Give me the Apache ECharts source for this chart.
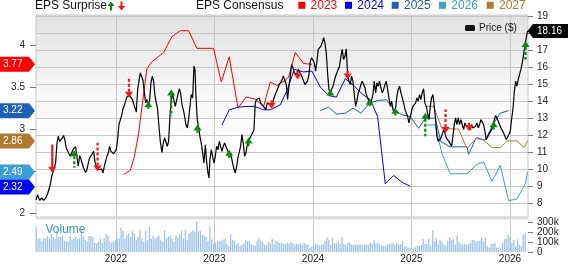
<!DOCTYPE html>
<html><head><meta charset="utf-8">
<script src="https://cdn.jsdelivr.net/npm/echarts@6/dist/echarts.min.js"></script>
<style>html,body{margin:0;padding:0;background:#fff}#c{width:568px;height:264px}</style>
</head><body><div id="c"></div>
<script>
// ---------- data ----------
const yearTicks = [2022, 2023, 2024, 2025, 2026];
const priceTicks = [8, 9, 10, 11, 12, 13, 14, 15, 16, 17, 18, 19];
const epsTicks = [2, 2.5, 3, 3.5, 4];
const epsTickLabels = [2, 3, 3.5, 4];
const volumeTicks = [0, 100, 200, 300]; // thousands

const consensusYears = ['2023', '2024', '2025', '2026', '2027'];
const consensusLast = [3.77, 2.32, 3.22, 2.49, 2.86];
const lastPrice = 18.16;

// price: [decimal year, $]
const price = [
[2021.188,8.20],[2021.204,8.50],[2021.225,8.17],[2021.245,8.31],[2021.265,8.17],[2021.286,8.30],[2021.306,8.56],[2021.320,8.64],[2021.333,9.09],[2021.347,9.59],[2021.360,9.82],[2021.374,9.78],[2021.387,10.37],[2021.401,11.55],[2021.414,11.95],[2021.428,11.65],[2021.441,11.55],[2021.455,11.85],[2021.468,12.00],[2021.482,11.71],[2021.495,11.26],[2021.509,11.16],[2021.523,10.92],[2021.536,10.77],[2021.550,10.96],[2021.563,11.16],[2021.577,11.06],[2021.590,11.32],[2021.604,11.36],[2021.617,10.18],[2021.631,10.81],[2021.644,10.61],[2021.658,10.33],[2021.671,10.08],[2021.692,9.82],[2021.705,9.98],[2021.719,10.37],[2021.732,10.67],[2021.746,10.77],[2021.759,10.92],[2021.773,11.06],[2021.786,10.47],[2021.800,10.18],[2021.814,10.18],[2021.827,9.98],[2021.841,9.88],[2021.854,10.02],[2021.868,9.78],[2021.881,10.18],[2021.895,10.47],[2021.908,10.77],[2021.922,10.96],[2021.935,11.36],[2021.949,11.06],[2021.962,11.06],[2021.976,10.92],[2021.990,11.00],
[2022.003,11.16],[2022.017,11.75],[2022.030,12.64],[2022.044,12.73],[2022.057,13.17],[2022.071,13.56],[2022.084,13.76],[2022.098,14.02],[2022.111,14.27],[2022.125,14.21],[2022.138,14.35],[2022.152,14.27],[2022.166,14.12],[2022.179,13.88],[2022.193,13.62],[2022.206,13.37],[2022.220,14.71],[2022.233,15.20],[2022.247,15.69],[2022.260,15.73],[2022.274,15.26],[2022.287,14.55],[2022.301,13.92],[2022.314,14.12],[2022.328,13.82],[2022.341,14.02],[2022.355,15.10],[2022.369,15.50],[2022.382,15.20],[2022.396,14.31],[2022.409,14.21],[2022.423,13.53],[2022.436,12.54],[2022.450,11.65],
[2022.467,11.00],[2022.480,11.55],[2022.494,11.85],[2022.507,11.75],[2022.521,11.36],[2022.534,11.65],[2022.548,13.13],[2022.561,14.12],[2022.575,14.41],[2022.589,14.51],[2022.602,13.72],[2022.616,13.62],[2022.629,14.41],[2022.643,14.75],[2022.656,14.51],[2022.670,13.82],[2022.683,13.53],[2022.697,13.13],[2022.710,12.64],[2022.724,12.44],[2022.737,12.93],[2022.751,13.72],[2022.764,14.41],[2022.778,14.21],[2022.792,16.09],[2022.802,15.89],[2022.812,14.31],[2022.825,12.93],[2022.839,12.44],[2022.852,11.95],[2022.866,11.55],[2022.880,10.96],[2022.893,10.37],[2022.907,11.45],[2022.920,10.47],[2022.934,9.78],[2022.944,9.49],[2022.954,10.57],[2022.968,11.16],[2022.981,10.77],[2022.995,10.37],
[2023.008,10.77],[2023.022,11.36],[2023.035,11.16],[2023.049,11.65],[2023.062,11.55],[2023.076,11.06],[2023.089,11.36],[2023.103,11.55],[2023.116,11.45],[2023.130,11.16],[2023.143,10.96],[2023.157,11.00],[2023.171,10.77],[2023.184,10.37],[2023.198,10.02],[2023.211,9.78],[2023.225,10.18],[2023.238,10.67],[2023.252,10.77],[2023.265,11.36],[2023.279,12.05],[2023.292,11.55],[2023.306,10.77],[2023.319,10.96],[2023.333,11.45],[2023.347,11.65],[2023.360,11.85],[2023.374,11.95],[2023.387,12.15],[2023.401,12.34],[2023.414,13.92],[2023.428,14.12],[2023.441,14.08],[2023.455,14.21],[2023.468,13.92],[2023.482,14.02],[2023.495,13.72],[2023.509,13.68],[2023.522,13.53],[2023.536,13.92],[2023.550,14.02],[2023.563,13.82],[2023.577,13.92],[2023.590,13.88],[2023.604,14.21],[2023.617,14.41],[2023.631,14.61],[2023.644,14.80],[2023.658,15.00],[2023.671,15.10],[2023.685,15.26],[2023.698,15.50],[2023.712,15.59],
[2023.729,15.00],[2023.742,14.12],[2023.756,14.90],[2023.770,15.50],[2023.783,16.18],[2023.797,15.99],[2023.810,15.69],[2023.824,15.79],[2023.837,15.59],[2023.851,15.89],[2023.864,15.89],[2023.878,15.59],[2023.891,15.40],[2023.905,15.30],[2023.918,15.00],[2023.932,14.90],[2023.945,15.20],[2023.959,15.59],[2023.973,16.38],[2023.986,16.58],
[2024.000,16.48],[2024.013,16.28],[2024.027,15.79],[2024.040,16.38],[2024.054,17.07],[2024.067,17.11],[2024.081,17.27],[2024.094,17.47],[2024.108,17.76],[2024.121,17.47],[2024.135,16.87],[2024.149,15.59],[2024.162,14.71],[2024.176,14.55],[2024.189,14.71],[2024.203,14.90],[2024.216,15.20],[2024.230,15.50],[2024.243,15.69],[2024.257,15.79],[2024.270,16.09],[2024.284,16.68],[2024.297,17.07],[2024.311,16.48],[2024.325,16.68],[2024.338,17.11],[2024.352,15.59],[2024.365,15.20],[2024.379,15.00],[2024.392,15.50],[2024.406,15.20],[2024.419,14.41],[2024.433,13.72],[2024.446,14.02],[2024.460,14.51],[2024.473,14.71],[2024.487,15.00],[2024.500,15.20],[2024.514,15.10],[2024.528,14.81],[2024.541,14.41],[2024.555,14.21],[2024.568,14.12],[2024.582,13.82],[2024.595,13.72],[2024.609,14.41],[2024.622,15.20],[2024.636,14.51],[2024.649,15.10],[2024.663,14.90],[2024.676,15.20],[2024.690,14.81],[2024.704,14.51],[2024.717,14.71],[2024.731,15.00],[2024.744,15.20],[2024.758,14.71],[2024.771,14.21],[2024.785,13.72],[2024.798,14.02],[2024.812,13.53],[2024.825,13.33],[2024.839,13.62],[2024.852,14.31],[2024.866,14.71],[2024.879,14.90],[2024.893,14.51],[2024.907,14.21],[2024.920,13.92],[2024.934,13.53],[2024.947,13.33],[2024.961,13.13],[2024.974,12.74],[2024.988,12.64],
[2025.001,13.43],[2025.015,13.72],[2025.028,13.82],[2025.042,13.92],[2025.055,14.21],[2025.069,14.02],[2025.082,14.41],[2025.096,14.12],[2025.109,14.51],[2025.123,14.75],[2025.136,13.92],[2025.150,13.72],[2025.163,13.33],[2025.177,12.93],[2025.191,13.72],[2025.204,14.21],[2025.218,14.41],[2025.231,13.72],[2025.245,12.93],[2025.258,11.95],[2025.272,11.65],[2025.285,11.59],[2025.299,11.85],[2025.312,12.05],[2025.326,12.34],[2025.339,12.15],[2025.353,11.85],[2025.367,11.75],[2025.380,11.65],[2025.394,11.65],[2025.407,11.36],[2025.421,11.95],[2025.434,12.64],[2025.448,13.03],[2025.461,12.64],[2025.475,13.03],[2025.488,12.64],[2025.502,12.93],[2025.515,12.64],[2025.529,12.34],[2025.543,12.74],[2025.556,12.54],[2025.570,12.64],[2025.583,12.54],[2025.597,12.34],[2025.610,12.64],[2025.624,12.44],[2025.637,12.34],[2025.651,12.54],[2025.664,12.74],[2025.678,12.44],[2025.691,12.64],[2025.705,12.93],[2025.719,13.03],[2025.732,12.64],[2025.746,12.24],[2025.759,11.75],[2025.773,11.65],[2025.786,12.05],[2025.800,12.15],[2025.813,12.34],[2025.827,12.54],[2025.840,12.93],[2025.854,13.17],[2025.867,13.03],[2025.881,12.84],[2025.894,12.64],[2025.908,12.44],[2025.921,12.34],[2025.935,12.15],[2025.949,11.95],[2025.962,11.75],[2025.976,11.85],[2025.989,12.05],
[2026.003,12.24],[2026.016,12.93],[2026.030,13.53],[2026.043,14.51],[2026.057,15.20],[2026.070,14.90],[2026.084,15.30],[2026.097,15.59],[2026.111,15.89],[2026.125,16.28],[2026.138,16.78],[2026.152,17.27],[2026.165,17.76],[2026.179,18.16]
];

// EPS consensus by fiscal year: [decimal year, EPS]
const eps2023 = [[2022.078,2.46],[2022.145,2.51],[2022.186,2.67],[2022.230,2.95],[2022.264,3.27],[2022.314,3.72],[2022.365,3.80],[2022.450,3.88],[2022.484,3.91],[2022.568,4.10],[2022.653,4.17],[2022.737,4.17],[2022.822,3.96],[2022.991,3.96],[2023.069,3.56],[2023.150,3.86],[2023.238,3.25],[2023.319,3.38],[2023.407,3.36],[2023.499,3.27],[2023.566,3.56],[2023.634,3.52],[2023.719,3.58],[2023.753,3.62],[2023.820,3.91],[2023.905,3.78],[2023.990,3.77]];
const eps2024 = [[2023.076,3.05],[2023.150,3.23],[2023.238,3.26],[2023.319,3.27],[2023.407,3.27],[2023.499,3.23],[2023.566,3.23],[2023.634,3.27],[2023.668,3.29],[2023.736,3.46],[2023.810,3.71],[2023.905,3.68],[2023.989,3.69],[2024.074,3.50],[2024.159,3.40],[2024.237,3.38],[2024.328,3.60],[2024.413,3.52],[2024.497,3.42],[2024.582,3.35],[2024.656,3.15],[2024.734,2.35],[2024.819,2.45],[2024.903,2.37],[2024.988,2.32]];
const eps2025 = [[2024.074,3.22],[2024.159,3.26],[2024.237,3.18],[2024.328,3.19],[2024.406,3.25],[2024.487,3.19],[2024.575,3.31],[2024.656,3.34],[2024.744,3.35],[2024.825,3.23],[2024.903,3.17],[2024.988,3.15],[2025.072,3.01],[2025.140,3.13],[2025.241,3.13],[2025.299,2.85],[2025.394,2.79],[2025.563,2.79],[2025.580,2.70],[2025.658,2.90],[2025.749,2.87],[2025.834,3.07],[2025.901,3.19],[2025.986,3.22]];
const eps2026 = [[2025.157,3.05],[2025.241,3.05],[2025.309,2.71],[2025.394,2.47],[2025.563,2.47],[2025.664,2.58],[2025.732,2.61],[2025.817,2.38],[2025.901,2.57],[2025.986,2.15],[2026.070,2.17],[2026.155,2.35],[2026.179,2.49]];
const eps2027 = [[2025.140,3.27],[2025.224,3.27],[2025.309,3.01],[2025.478,3.00],[2025.563,2.77],[2025.658,2.89],[2025.732,2.87],[2025.817,2.78],[2025.901,2.78],[2025.969,2.86],[2026.070,2.86],[2026.145,2.78],[2026.179,2.86]];

// EPS surprises: date, price where arrow tip sits, signed arrow size ($ units, + = beat)
const surpriseDate = [2021.353,2021.577,2021.813,2022.132,2022.328,2022.561,2022.828,2023.150,2023.346,2023.580,2023.844,2024.176,2024.351,2024.575,2024.836,2025.140,2025.346,2025.584,2025.834,2026.158];
const surpriseTip  = [9.80,11.12,9.88,14.22,14.02,14.71,12.64,11.16,11.87,13.57,15.30,14.71,15.30,14.16,13.63,13.33,12.15,12.24,12.83,17.56];
const surpriseSize = [-1.66,1.02,-1.69,-1.18,0.45,1.58,0.49,0.49,0.51,-0.50,-0.49,0.40,-0.49,0.44,0.46,1.38,-1.38,-0.50,0.49,1.08];

// weekly volume (thousands), first week starting at volumeStart
const volumeStart = 2021.19;
const volume = [
250,135,135,105,135,140,160,135,180,150,135,220,150,150,160,110,105,105,160,120,135,150,130,135,215,160,120,105,160,160,150,90,85,105,130,90,135,180,160,105,90,100,
120,135,135,245,215,135,165,185,150,215,185,120,150,225,135,105,215,120,250,130,165,135,150,165,120,105,215,135,150,165,130,105,165,150,180,215,135,225,120,190,200,220,200,310,210,
215,170,165,150,110,260,125,80,95,105,110,115,125,130,80,60,175,120,115,75,90,60,70,85,120,110,110,80,65,65,110,135,110,100,70,70,100,85,130,75,110,100,90,90,85,80,90,85,100,90,75,80,75,85,70,90,80,75,40,55,60,80,75,65,70,80,110,145,125,70,140,85,95,100,80,150,80,70,90,95,75,70,75,70,75,75,70,75,
75,70,95,80,120,85,95,75,70,60,60,75,80,90,90,75,95,75,80,110,55,60,45,40,42,40,50,60,60,70,130,80,80,130,60,215,105,135,75,120,105,75,60,110,150,120,130,75,165,100,80,75,80,75,80,90,120,120,105,110,110,145,105,145,60,45,80,80,90,45,45,40,90,130,135,175,150,90,120,60,130,70,55,170,185
];

// ---------- styling / layout ----------
const FONT = "'Liberation Sans', Arial, Helvetica, sans-serif";
const colors = { '2023': '#ff0000', '2024': '#0000ff', '2025': '#1f5fb4', '2026': '#3a9fd2', '2027': '#b07a30' };
const GRID_L = 36, GRID_R = 40, PRICE_TOP = 15, PRICE_H = 202, VOL_TOP = 219.5, VOL_H = 34;
const X_MIN = 2021.188, X_MAX = 2026.183;
const GRIDC = '#c8c8c8';

const chart = echarts.init(document.getElementById('c'), null, { renderer: 'canvas' });

const epsSeries = [eps2023, eps2024, eps2025, eps2026, eps2027];
const series = epsSeries.map((d, i) => ({
  type: 'line', name: consensusYears[i], xAxisIndex: 0, yAxisIndex: 1, data: d,
  symbol: 'none', lineStyle: { width: 1, color: colors[consensusYears[i]] }, z: 3, silent: true
}));
series.push({
  type: 'line', name: 'Price', xAxisIndex: 0, yAxisIndex: 0, data: price,
  symbol: 'none', lineStyle: { width: 1.2, color: '#000' }, z: 4, silent: true
});
series.push({
  type: 'bar', name: 'Volume', xAxisIndex: 1, yAxisIndex: 2,
  data: volume.map((v, i) => [volumeStart + i * 7 / 365.25, v]),
  barWidth: 1.3, itemStyle: { color: '#9fc4e8' }, silent: true
});
series.push({
  type: 'custom', name: 'Surprise', xAxisIndex: 0, yAxisIndex: 0, z: 6, silent: true,
  data: surpriseDate.map((d, i) => [d, surpriseTip[i], surpriseSize[i]]),
  encode: { x: 0, y: 1 },
  renderItem: (params, api) => {
    const d = api.value(0), tip = api.value(1), size = api.value(2);
    const up = size > 0, dir = up ? 1 : -1;
    const pt = api.coord([d, tip]);
    const pb = api.coord([d, tip - size]);
    const color = up ? '#0a8a0a' : '#ff1414';
    const baseY = pt[1] + dir * 6;
    const children = [{ type: 'polygon', shape: { points: [[pt[0], pt[1]], [pt[0] - 4, baseY], [pt[0] + 4, baseY]] }, style: { fill: color } }];
    if ((pb[1] - baseY) * dir > 0.5) {
      children.push({ type: 'line', shape: { x1: pt[0], y1: baseY, x2: pt[0], y2: pb[1] },
        style: { stroke: color, lineWidth: 2.2, lineDash: Math.abs(size) > 1.6 && d < 2021.5 ? null : [3, 2] } });
    }
    return { type: 'group', children };
  }
});

const axisLabelStyle = { fontFamily: FONT, fontSize: 10, color: '#222' };

const option = {
  animation: false,
  textStyle: { fontFamily: FONT },
  grid: [
    { left: GRID_L, right: GRID_R, top: PRICE_TOP, height: PRICE_H, show: true, borderColor: GRIDC, borderWidth: 1,
      backgroundColor: new echarts.graphic.LinearGradient(0, 0, 0, 1, [
        { offset: 0, color: '#e2e2e2' }, { offset: 0.5, color: '#fcfcfc' }, { offset: 1, color: '#ffffff' }]) },
    { left: GRID_L, right: GRID_R, top: VOL_TOP, height: VOL_H, show: false }
  ],
  xAxis: [
    { gridIndex: 0, type: 'value', min: X_MIN, max: X_MAX,
      axisLine: { show: false }, axisTick: { show: false, customValues: yearTicks },
      axisLabel: { show: false, customValues: yearTicks },
      splitLine: { show: true, lineStyle: { color: GRIDC, width: 1 } } },
    { gridIndex: 1, type: 'value', min: X_MIN, max: X_MAX,
      axisLine: { show: false }, axisTick: { show: false, customValues: yearTicks },
      axisLabel: Object.assign({ show: true, customValues: yearTicks, margin: 2, formatter: v => String(v) }, axisLabelStyle),
      splitLine: { show: true, lineStyle: { color: GRIDC, width: 1 } } }
  ],
  yAxis: [
    { gridIndex: 0, type: 'value', position: 'right', min: 7.19, max: 19.1,
      axisLine: { show: false },
      axisTick: { show: true, length: 5, customValues: priceTicks, lineStyle: { color: '#777' } },
      axisLabel: Object.assign({ customValues: priceTicks, margin: 9 }, axisLabelStyle),
      splitLine: { show: true, lineStyle: { color: GRIDC, width: 1 } } },
    { gridIndex: 0, type: 'value', position: 'left', min: 1.956, max: 4.3565,
      axisLine: { show: false },
      axisTick: { show: true, length: 6, customValues: epsTicks, lineStyle: { color: '#777' } },
      axisLabel: Object.assign({ customValues: epsTickLabels, margin: 11 }, axisLabelStyle),
      splitLine: { show: false } },
    { gridIndex: 1, type: 'value', position: 'right', min: 0, max: 327,
      axisLine: { show: false },
      axisTick: { show: true, length: 5, customValues: volumeTicks, lineStyle: { color: '#777' } },
      axisLabel: Object.assign({ customValues: volumeTicks, margin: 9, formatter: v => v === 0 ? '0' : v + 'k' }, axisLabelStyle),
      splitLine: { show: false } }
  ],
  series
};
chart.setOption(option);

// ---------- overlays (badges, header, legend) ----------
const g = [];
// separator band between price and volume panels
g.push({ type: 'rect', shape: { x: GRID_L, y: PRICE_TOP + PRICE_H, width: 568 - GRID_L - GRID_R, height: 2.5 }, style: { fill: '#dcdcdc' }, z: 10 });

// header
const hdrY = 6;
g.push({ type: 'text', x: 35, y: hdrY, style: { text: 'EPS Surprise', font: '12px ' + FONT, fill: '#111', verticalAlign: 'middle' }, z: 10 });
g.push({ type: 'polygon', shape: { points: [[111, 1.5], [107.5, 6], [114.5, 6]] }, style: { fill: '#0a8a0a' }, z: 10 });
g.push({ type: 'rect', shape: { x: 110, y: 6, width: 2, height: 4.5 }, style: { fill: '#0a8a0a' }, z: 10 });
g.push({ type: 'polygon', shape: { points: [[121.5, 10.5], [118, 6], [125, 6]] }, style: { fill: '#ff1414' }, z: 10 });
g.push({ type: 'rect', shape: { x: 120.5, y: 1.5, width: 2, height: 4.5 }, style: { fill: '#ff1414' }, z: 10 });
g.push({ type: 'text', x: 196, y: hdrY, style: { text: 'EPS Consensus', font: '12px ' + FONT, fill: '#111', verticalAlign: 'middle' }, z: 10 });
const legX = [298.3, 345, 391.7, 439, 486.7];
consensusYears.forEach((yr, i) => {
  g.push({ type: 'rect', shape: { x: legX[i], y: 1.8, width: 7, height: 7 }, style: { fill: colors[yr] }, z: 10 });
  g.push({ type: 'text', x: legX[i] + 12.3, y: hdrY, style: { text: yr, font: '12px ' + FONT, fill: colors[yr], verticalAlign: 'middle' }, z: 10 });
});
// price legend
g.push({ type: 'rect', shape: { x: 465, y: 25, width: 10, height: 6, r: 1.5 }, style: { fill: '#111' }, z: 10 });
g.push({ type: 'text', x: 479, y: 28, style: { text: 'Price ($)', font: '10px ' + FONT, fill: '#111', verticalAlign: 'middle' }, z: 10 });

// volume label
g.push({ type: 'text', x: 45.5, y: 229.5, style: { text: 'Volume', font: '12px ' + FONT, fill: '#3a8fd6', verticalAlign: 'middle' }, z: 10 });

// left EPS badges (positioned via the EPS axis)
const badges = consensusYears.map((yr, i) => ({ yr, v: consensusLast[i], y: chart.convertToPixel({ yAxisIndex: 1 }, consensusLast[i]) }));
badges.sort((a, b) => a.y - b.y);
for (let i = 1; i < badges.length; i++) {
  if (badges[i].y - badges[i - 1].y < 15) badges[i].y = badges[i - 1].y + 15;
}
badges.forEach(b => {
  const y = b.y;
  g.push({ type: 'polygon', shape: { points: [[0, y - 7.5], [29, y - 7.5], [35, y], [29, y + 7.5], [0, y + 7.5]] }, style: { fill: colors[b.yr] }, z: 11 });
  g.push({ type: 'text', x: 3, y: y, style: { text: b.v.toFixed(2), font: '10px ' + FONT, fill: '#fff', verticalAlign: 'middle' }, z: 12 });
});

// right price badge
const py = chart.convertToPixel({ yAxisIndex: 0 }, lastPrice);
g.push({ type: 'polygon', shape: { points: [[527.5, py], [533, py - 7], [568, py - 7], [568, py + 7], [533, py + 7]] }, style: { fill: '#000' }, z: 11 });
g.push({ type: 'text', x: 537, y: py, style: { text: lastPrice.toFixed(2), font: '10px ' + FONT, fill: '#fff', verticalAlign: 'middle' }, z: 12 });

chart.setOption({ graphic: { elements: g } });
</script>
</body></html>
